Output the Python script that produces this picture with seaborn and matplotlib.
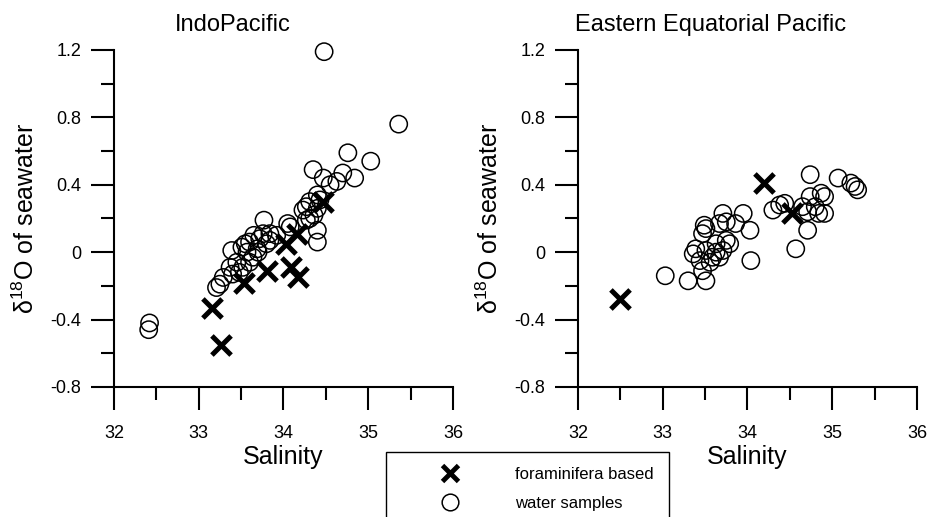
import numpy as np
import pandas as pd
import matplotlib
matplotlib.use("Agg")
import matplotlib.pyplot as plt
from matplotlib.lines import Line2D
import seaborn as sns

sns.set_theme(style="ticks", rc={"text.color": "black", "axes.labelcolor": "black",
                                 "xtick.color": "black", "ytick.color": "black"})
plt.rcParams["font.family"] = ["Liberation Sans", "DejaVu Sans"]
plt.rcParams["mathtext.default"] = "regular"

# IndoPacific - water samples
indo_water_sal = [34.48, 35.36, 34.76, 35.03, 34.35, 34.84, 34.70, 34.47, 34.63, 34.55,
                  34.40, 34.43, 34.31, 34.27, 34.23, 34.40, 34.36, 33.77, 34.27, 34.08,
                  34.40, 34.40, 34.31, 33.92, 33.84, 34.05, 33.76, 33.84, 33.39, 33.51,
                  33.60, 33.72, 33.57, 33.69, 33.80, 33.64, 33.45, 33.37, 33.52, 33.29,
                  33.21, 33.40, 33.48, 33.60, 33.55, 33.65, 32.42, 32.41, 33.25, 33.70]
indo_water_d18o = [1.19, 0.76, 0.59, 0.54, 0.49, 0.44, 0.47, 0.44, 0.42, 0.40,
                   0.34, 0.31, 0.30, 0.27, 0.25, 0.26, 0.22, 0.19, 0.19, 0.15,
                   0.13, 0.06, 0.20, 0.10, 0.11, 0.17, 0.11, 0.07, 0.01, 0.03,
                   0.06, 0.08, 0.00, 0.02, 0.05, -0.03, -0.06, -0.09, -0.09, -0.15,
                   -0.21, -0.13, -0.12, -0.06, 0.05, 0.10, -0.42, -0.46, -0.19, 0.00]

# IndoPacific - foraminifera based
indo_foram_sal = [33.16, 33.26, 33.53, 33.80, 34.03, 34.16, 34.09, 34.17, 34.47]
indo_foram_d18o = [-0.33, -0.55, -0.18, -0.11, 0.05, 0.11, -0.09, -0.15, 0.30]

# Eastern Equatorial Pacific - water samples
eep_water_sal = [33.30, 33.51, 34.04, 34.03, 33.95, 33.86, 33.71, 33.75, 33.67, 33.51,
                 33.47, 33.49, 33.75, 33.63, 33.39, 33.51, 33.63, 33.71, 33.79, 33.44,
                 33.56, 33.67, 33.47, 33.36, 33.59, 34.30, 34.38, 33.03, 34.74, 35.07,
                 35.22, 35.27, 35.30, 34.74, 34.87, 34.91, 34.80, 34.71, 34.84, 34.91,
                 34.71, 34.65, 34.44, 34.57]
eep_water_d18o = [-0.17, -0.17, -0.05, 0.13, 0.23, 0.17, 0.23, 0.18, 0.17, 0.14,
                  0.11, 0.16, 0.07, 0.05, 0.02, 0.01, 0.00, 0.01, 0.05, -0.05,
                  -0.06, -0.03, -0.11, -0.01, -0.03, 0.25, 0.28, -0.14, 0.46, 0.44,
                  0.41, 0.39, 0.37, 0.33, 0.35, 0.33, 0.27, 0.24, 0.23, 0.23,
                  0.13, 0.27, 0.29, 0.02]

# Eastern Equatorial Pacific - foraminifera based
eep_foram_sal = [32.50, 34.20, 34.52]
eep_foram_d18o = [-0.28, 0.41, 0.23]

panels = [
    ("IndoPacific", 0.351, indo_water_sal, indo_water_d18o, indo_foram_sal, indo_foram_d18o),
    ("Eastern Equatorial Pacific", 0.39, eep_water_sal, eep_water_d18o, eep_foram_sal, eep_foram_d18o),
]

fig = plt.figure(figsize=(9.28, 5.17), dpi=100)
ax_left = fig.add_axes([0.1228, 0.2515, 0.3653, 0.6518])
ax_right = fig.add_axes([0.6228, 0.2515, 0.3653, 0.6518])

for ax, (title, tx, ws, wd, fs, fd) in zip([ax_left, ax_right], panels):
    water = pd.DataFrame({"Salinity": ws, "d18O": wd})
    foram = pd.DataFrame({"Salinity": fs, "d18O": fd})
    sns.scatterplot(data=water, x="Salinity", y="d18O", ax=ax, marker="o",
                    s=155, facecolor="none", edgecolor="black", linewidth=1.1,
                    zorder=2, clip_on=False)
    sns.scatterplot(data=foram, x="Salinity", y="d18O", ax=ax, marker="x",
                    s=190, color="black", linewidth=3.6, zorder=3, clip_on=False)
    ax.set_xlim(32, 36)
    ax.set_ylim(-0.8, 1.2)
    ax.set_xticks([32, 33, 34, 35, 36])
    ax.set_xticks(np.arange(32, 36, 0.5), minor=True)
    ax.set_yticks([-0.8, -0.4, 0, 0.4, 0.8, 1.2])
    ax.set_yticklabels(["-0.8", "-0.4", "0", "0.4", "0.8", "1.2"])
    ax.set_yticks(np.arange(-0.8, 1.2, 0.2), minor=True)
    ax.tick_params(which="major", length=16.5, width=1.5, labelsize=13, pad=7, color="black")
    ax.tick_params(axis="x", which="major", pad=11)
    ax.tick_params(which="minor", length=9.5, width=1.5, color="black")
    for side in ["top", "right"]:
        ax.spines[side].set_visible(False)
    for side in ["left", "bottom"]:
        ax.spines[side].set_linewidth(1.5)
        ax.spines[side].set_color("black")
    ax.set_xlabel("Salinity", fontsize=18, labelpad=2)
    ax.set_ylabel("δ$^{18}$O of seawater", fontsize=18, labelpad=8)
    ax.set_title(title, fontsize=17, x=tx, pad=14)
    ax.set_facecolor("white")
    ax.grid(False)

handles = [
    Line2D([], [], marker="x", ls="none", color="black", markersize=12, markeredgewidth=3.5),
    Line2D([], [], marker="o", ls="none", markerfacecolor="none", markeredgecolor="black",
           markersize=12, markeredgewidth=1.1),
]
leg = fig.legend(handles, ["foraminifera based", "water samples"],
                 loc="upper left", bbox_to_anchor=(0.416, 0.1257), borderaxespad=0,
                 fontsize=12, frameon=True, fancybox=False, framealpha=1, edgecolor="black",
                 borderpad=0.9, handlelength=5.9, handletextpad=0.95, labelspacing=0.85)
leg.get_frame().set_linewidth(1.0)

fig.savefig("out.png", dpi=100)
